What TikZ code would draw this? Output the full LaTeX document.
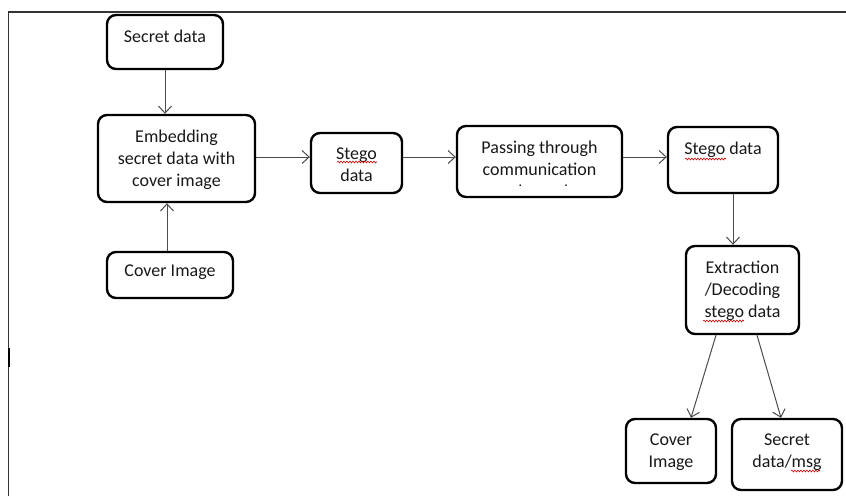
\documentclass[tikz,border=0pt]{standalone}
\usepackage{fontspec}
\setmainfont{Carlito}
\usetikzlibrary{arrows.meta,decorations.pathmorphing}
\tikzset{
  box/.style={draw=black, line width=2.4pt, rounded corners=9pt, inner sep=0pt, fill=white},
  txt/.style={anchor=north, inner sep=0pt, align=center, font=\fontsize{18}{22}\selectfont, text=black!90},
  conn/.style={draw=black!70, line width=1pt, -{Straight Barb[length=7pt,width=13pt,line width=1pt]}},
  frame/.style={draw=black!80, line width=1.4pt},
  squig/.style={draw=red!80!black, line width=0.6pt, decorate, decoration={snake, amplitude=0.9pt, segment length=3pt}}
}
\begin{document}
\begin{tikzpicture}[x=1pt,y=-1pt]
\useasboundingbox (0,0) rectangle (846,496);
\fill[white] (0,0) rectangle (846,496);
% frame
\draw[frame] (8.5,496) -- (8.5,12) -- (846,12);
\fill[black] (7.6,348) rectangle (10,367);

% boxes
\node[box, minimum width=116pt, minimum height=54pt] (sd) at (165,42) {};
\node[box, minimum width=157pt, minimum height=87pt] (emb) at (176.5,158.5) {};
\node[box, minimum width=126pt, minimum height=46pt] (ci1) at (170,275) {};
\node[box, minimum width=91pt, minimum height=60pt] (st1) at (356.5,163) {};
\node[box, minimum width=165pt, minimum height=71pt] (pass) at (539.5,161.5) {};
\node[box, minimum width=110pt, minimum height=66pt] (st2) at (723,160) {};
\node[box, minimum width=113pt, minimum height=88pt] (ext) at (742.5,290) {};
\node[box, minimum width=90pt, minimum height=64pt] (ci2) at (671,451) {};
\node[box, minimum width=110pt, minimum height=71pt] (sdm) at (787,454.5) {};

% texts
\node[txt] (sdT) at ([yshift=-15.5pt]sd.north) {Secret data};
\node[txt] (embT) at ([yshift=-16pt]emb.north) {Embedding\\secret data with\\cover image};
\node[txt] (ci1T) at ([yshift=-14pt]ci1.north) {Cover Image};
\node[txt] (st1T) at ([yshift=-16pt]st1.north) {Stego\\data};
\begin{scope}
  \clip ([xshift=2pt]pass.north west) rectangle ([yshift=12.5pt,xshift=-2pt]pass.south east);
  \node[txt] (passT) at ([yshift=-16pt]pass.north) {Passing through\\communication\\channel};
\end{scope}
\node[txt] (st2T) at ([yshift=-16pt]st2.north) {Stego data};
\node[txt] (extT) at ([yshift=-16pt]ext.north) {Extraction\\/Decoding\\stego data};
\node[txt] (ci2T) at ([yshift=-16pt]ci2.north) {Cover\\Image};
\node[txt] (sdmT) at ([yshift=-16pt]sdm.north) {Secret\\data/msg};

% spelling squiggles
\draw[squig] (337,162) -- (377,162);
\draw[squig] (685,159) -- (726,159);
\draw[squig] (703,321) -- (744,321);
\draw[squig] (791,471) -- (820,471);

% connectors
\draw[conn] (sd.south) -- (sd.south |- emb.north);
\draw[conn] ([xshift=-3pt]ci1.north) -- ([xshift=-3pt]ci1.north |- emb.south);
\draw[conn] ([yshift=1.5pt]emb.east) -- ([yshift=1.5pt]emb.east -| st1.west);
\draw[conn] ([yshift=6pt]st1.east) -- ([yshift=6pt]st1.east -| pass.west);
\draw[conn] ([yshift=4.5pt]pass.east) -- ([yshift=4.5pt]pass.east -| st2.west);
\draw[conn] ([xshift=10pt]st2.south) -- ([xshift=10pt]st2.south |- ext.north);
\draw[conn] ([xshift=-26.5pt]ext.south) -- ([xshift=20pt]ci2.north);
\draw[conn] ([xshift=14.5pt]ext.south) -- ([xshift=-6pt]sdm.north);
\end{tikzpicture}
\end{document}
